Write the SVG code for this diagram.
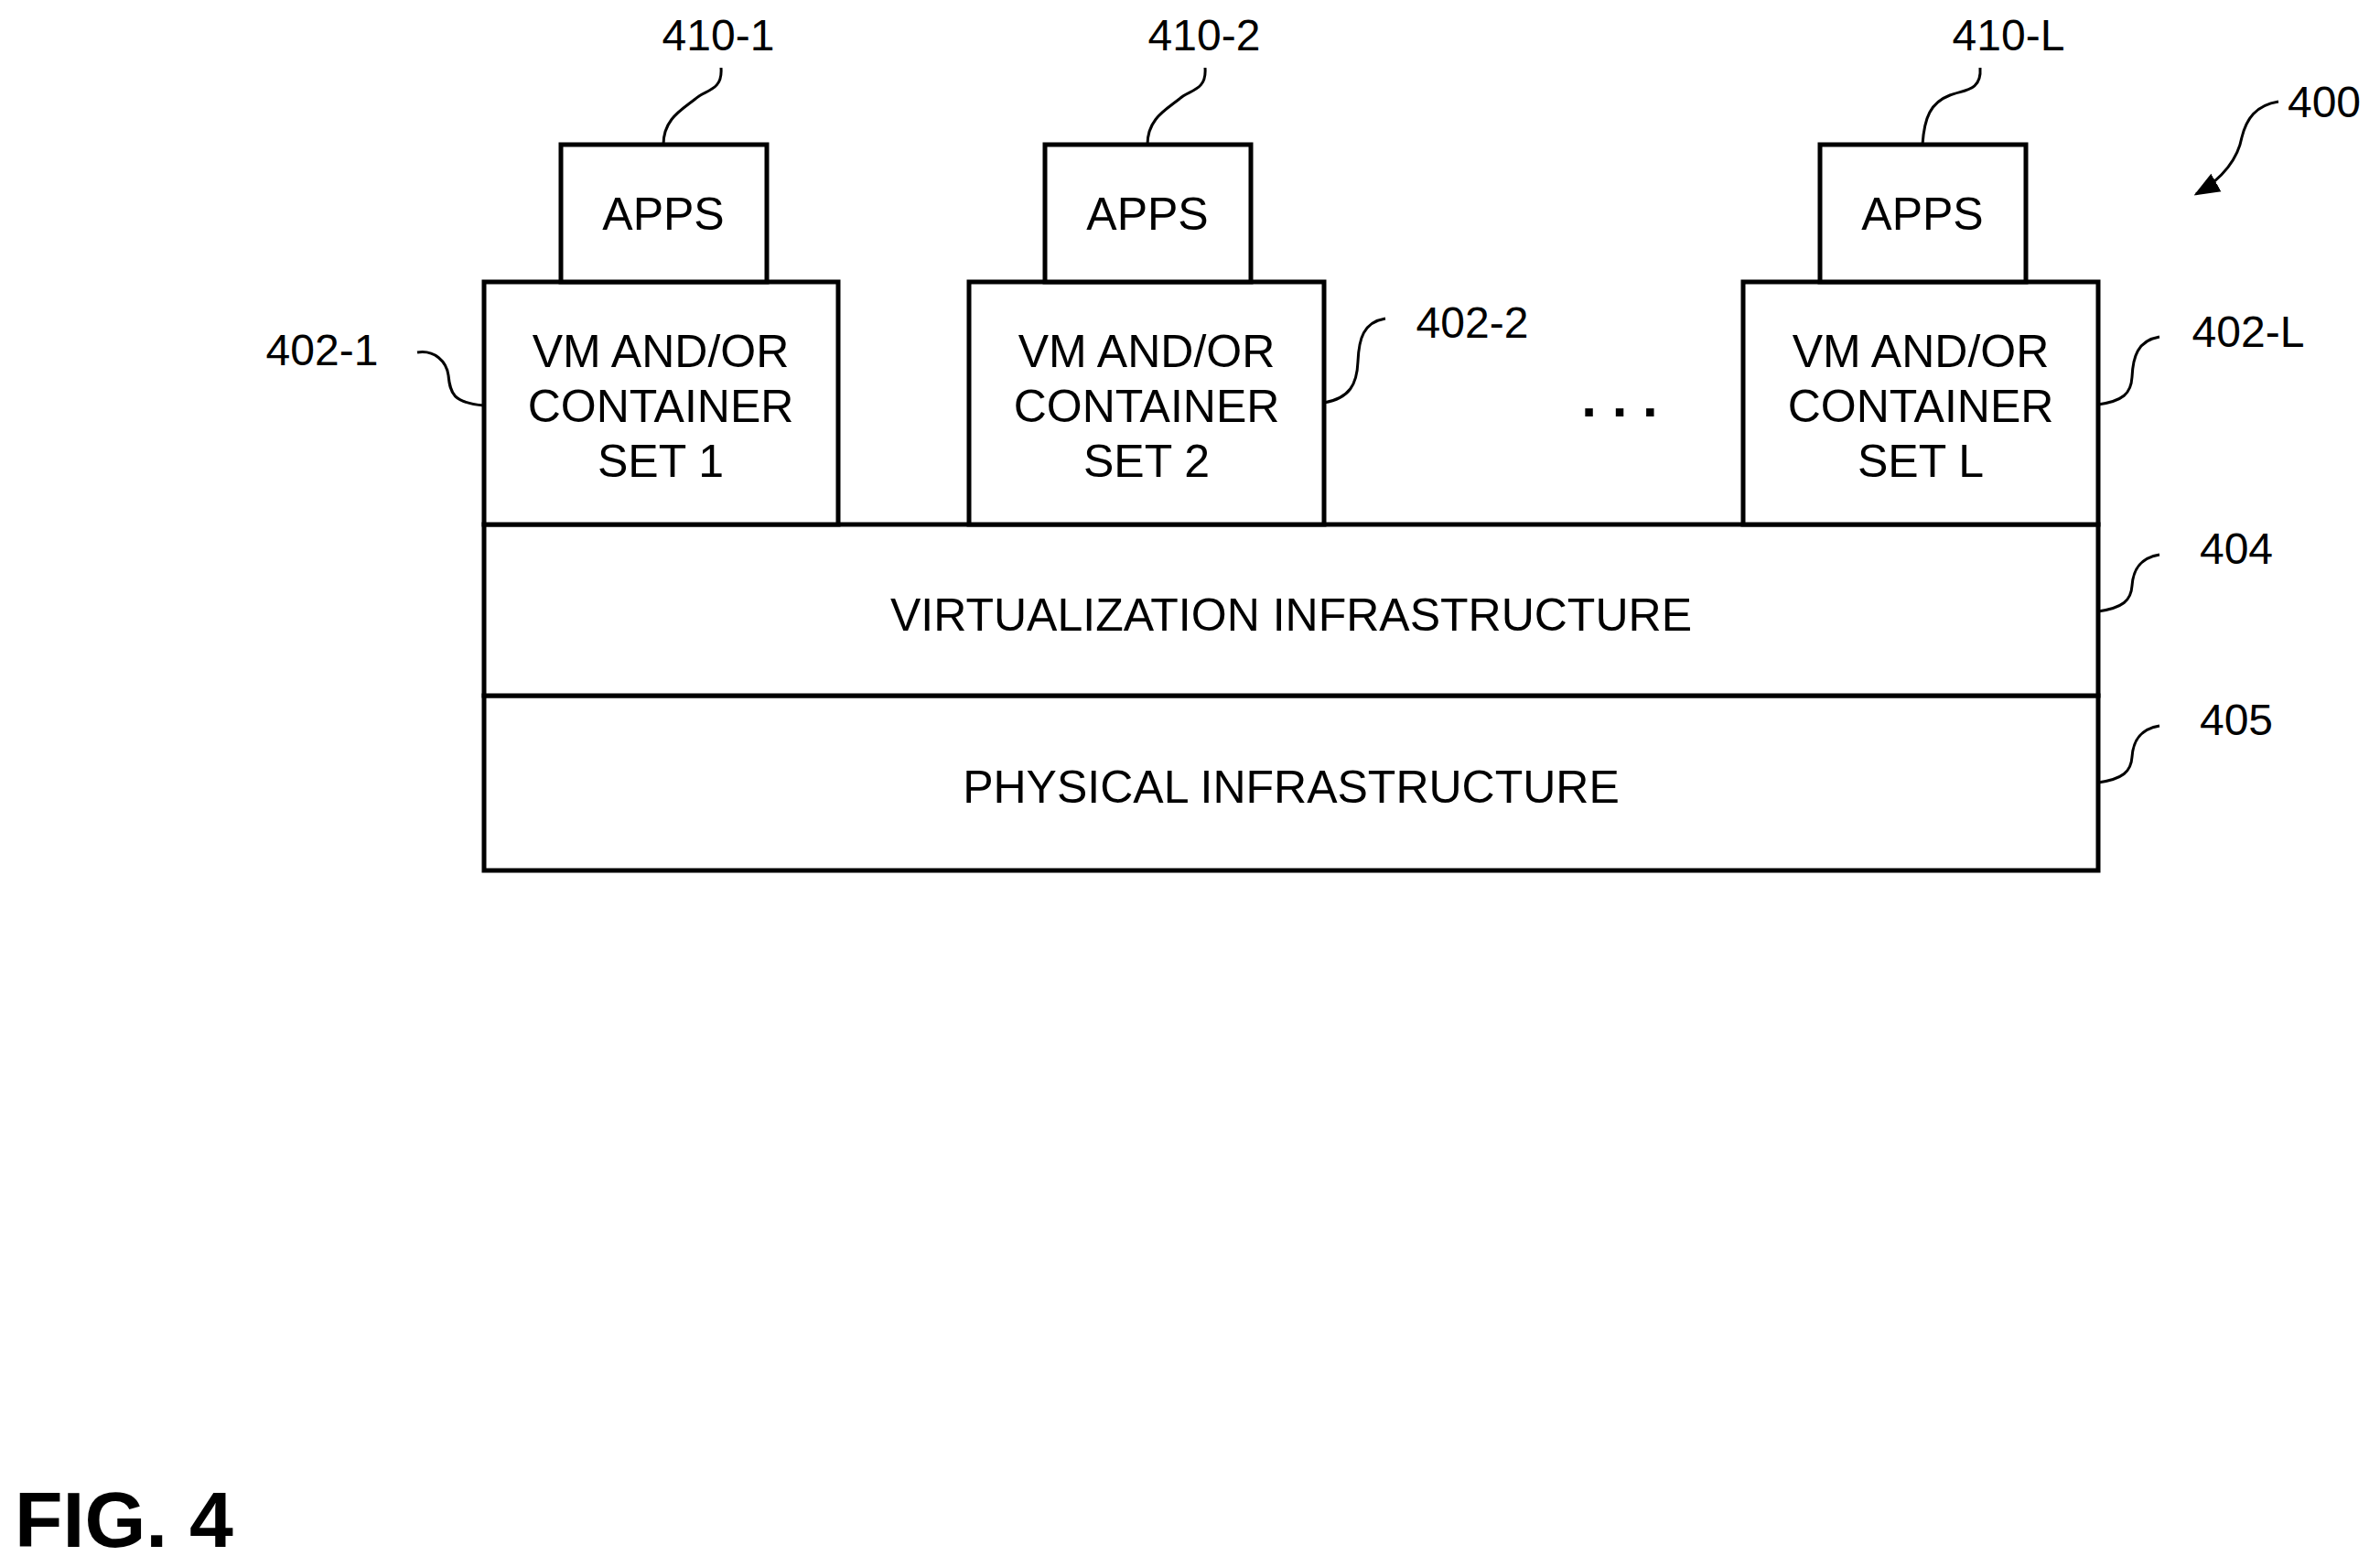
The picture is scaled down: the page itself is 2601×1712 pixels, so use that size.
<svg xmlns="http://www.w3.org/2000/svg" width="2601" height="1712" viewBox="0 0 2601 1712">
<style>
rect{fill:#fff;stroke:#000;stroke-width:5}
text{font-family:"Liberation Sans",Arial,sans-serif;font-size:50px;fill:#000;text-anchor:middle}
.n{font-size:48px}
.l{stroke:#000;stroke-width:3;fill:none}
</style>
<defs><marker id="a2" viewBox="0 0 10 10" refX="9" refY="5" markerWidth="28" markerHeight="28" orient="auto" markerUnits="userSpaceOnUse"><path d="M0,1L10,5L0,9z"/></marker></defs>
<rect width="2601" height="1712" style="stroke:none"/>
<g id="phys"><rect x="529" y="760" width="1764" height="191"/><text x="1411" y="877">PHYSICAL INFRASTRUCTURE</text></g>
<g id="virt"><rect x="529" y="573" width="1764" height="187"/><text x="1411" y="689">VIRTUALIZATION INFRASTRUCTURE</text></g>
<g id="vm1"><rect x="529" y="308" width="387" height="265"/><text x="722" y="401">VM AND/OR</text><text x="722" y="461">CONTAINER</text><text x="722" y="521">SET 1</text></g>
<g id="vm2"><rect x="1059" y="308" width="388" height="265"/><text x="1253" y="401">VM AND/OR</text><text x="1253" y="461">CONTAINER</text><text x="1253" y="521">SET 2</text></g>
<g id="vmL"><rect x="1905" y="308" width="388" height="265"/><text x="2099" y="401">VM AND/OR</text><text x="2099" y="461">CONTAINER</text><text x="2099" y="521">SET L</text></g>
<g id="apps1"><rect x="613" y="158" width="225" height="150"/><text x="725" y="251">APPS</text></g>
<g id="apps2"><rect x="1142" y="158" width="225" height="150"/><text x="1254" y="251">APPS</text></g>
<g id="appsL"><rect x="1989" y="158" width="225" height="150"/><text x="2101" y="251">APPS</text></g>
<text x="1770" y="455" style="font-size:60px;font-weight:bold">. . .</text>
<g id="labels">
<text class="n" x="785" y="55">410-1</text><text class="n" x="1316" y="55">410-2</text><text class="n" x="2195" y="55">410-L</text>
<text class="n" x="2540" y="128">400</text>
<text class="n" x="352" y="399">402-1</text><text class="n" x="1609" y="369">402-2</text><text class="n" x="2457" y="379">402-L</text>
<text class="n" x="2444" y="616">404</text><text class="n" x="2444" y="803">405</text>
<text x="16" y="1690" style="font-size:86px;font-weight:bold;text-anchor:start">FIG. 4</text>
</g>
<g id="connectors">
<path class="l" d="M788,74 C790,100 770,98 760,108 C745,120 725,130 725,158"/>
<path class="l" d="M1317,74 C1319,100 1299,98 1289,108 C1274,120 1254,130 1254,158"/>
<path class="l" d="M2164,74 C2166,100 2146,98 2131,104 C2110,112 2103,128 2101,158"/>
<path class="l" d="M456,385 C475,382 488,395 490,410 C492,430 495,440 529,443"/>
<path class="l" d="M1514,348 C1490,352 1485,370 1484,395 C1483,420 1475,435 1447,440"/>
<path class="l" d="M2360,368 C2336,372 2331,390 2330,412 C2329,430 2320,438 2293,442"/>
<path class="l" d="M2360,606 C2336,610 2331,626 2330,640 C2329,656 2320,664 2293,668"/>
<path class="l" d="M2360,793 C2336,797 2331,813 2330,827 C2329,843 2320,851 2293,855"/>
<path class="l" d="M2490,111 C2465,115 2455,130 2450,150 C2446,172 2430,195 2400,212" marker-end="url(#a2)"/>
</g>
</svg>
